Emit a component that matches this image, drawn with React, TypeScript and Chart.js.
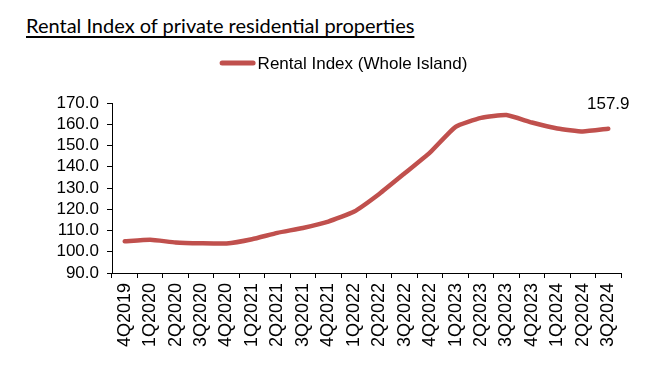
import React, { useEffect, useRef } from "react";
import { Chart, registerables } from "chart.js";

Chart.register(...registerables);

const titleText = "Rental Index of private residential properties";
const seriesLabel = "Rental Index (Whole Island)";
const categories = [
  "4Q2019", "1Q2020", "2Q2020", "3Q2020", "4Q2020",
  "1Q2021", "2Q2021", "3Q2021", "4Q2021",
  "1Q2022", "2Q2022", "3Q2022", "4Q2022",
  "1Q2023", "2Q2023", "3Q2023", "4Q2023",
  "1Q2024", "2Q2024", "3Q2024",
];
const rentalIndex = [
  104.9, 105.6, 104.4, 104.0, 103.9,
  105.9, 108.9, 111.2, 114.2,
  118.8, 127.2, 136.9, 146.8,
  158.8, 163.0, 164.3, 160.8,
  158.0, 156.6, 157.9,
];
const yMin = 90;
const yMax = 170;
const yStep = 10;

const FONT = '"Liberation Sans", Arial, sans-serif';
const LINE_COLOR = "#C0504D";

const legendPlugin = {
  id: "customLegend",
  afterDraw(chart: any) {
    const ds = chart.data.datasets[0];
    const ctx = chart.ctx;
    ctx.save();
    ctx.font = `17px ${FONT}`;
    const text = ds.label as string;
    const tw = ctx.measureText(text).width;
    const lineW = 36;
    const gap = 2;
    const total = lineW + gap + tw;
    const cx = 343.5;
    const cy = 63;
    const x0 = cx - total / 2;
    ctx.strokeStyle = ds.borderColor;
    ctx.lineWidth = 5;
    ctx.lineCap = "round";
    ctx.beginPath();
    ctx.moveTo(x0 + 2.5, cy);
    ctx.lineTo(x0 + lineW - 2.5, cy);
    ctx.stroke();
    ctx.fillStyle = "#000";
    ctx.textBaseline = "middle";
    ctx.textAlign = "left";
    ctx.fillText(text, x0 + lineW + gap, cy + 1);
    ctx.restore();
  },
};

const lastValuePlugin = {
  id: "lastValue",
  afterDatasetsDraw(chart: any) {
    const meta = chart.getDatasetMeta(0);
    const data = chart.data.datasets[0].data as number[];
    const idx = data.length - 1;
    const el = meta.data[idx];
    if (!el) return;
    const ctx = chart.ctx;
    ctx.save();
    ctx.font = `17px ${FONT}`;
    ctx.fillStyle = "#000";
    ctx.textAlign = "center";
    ctx.textBaseline = "alphabetic";
    ctx.fillText(data[idx].toFixed(1), el.x, el.y - 20);
    ctx.restore();
  },
};

export default function App() {
  const canvasRef = useRef<HTMLCanvasElement | null>(null);

  useEffect(() => {
    if (!canvasRef.current) return;
    const chart = new Chart(canvasRef.current, {
      type: "line",
      data: {
        labels: categories,
        datasets: [
          {
            label: seriesLabel,
            data: rentalIndex,
            borderColor: LINE_COLOR,
            backgroundColor: LINE_COLOR,
            borderWidth: 4.5,
            pointRadius: 0,
            pointHoverRadius: 0,
            tension: 0.15,
            borderCapStyle: "round",
            borderJoinStyle: "round",
            fill: false,
          },
        ],
      },
      options: {
        responsive: false,
        animation: false,
        layout: { padding: { top: 103, left: 50, right: 39, bottom: 0 } },
        plugins: {
          legend: { display: false },
          title: { display: false },
          tooltip: { enabled: false },
        },
        scales: {
          x: {
            type: "category",
            offset: true,
            grid: {
              offset: true,
              drawOnChartArea: false,
              drawTicks: true,
              tickLength: 5,
              tickColor: "#000",
              tickWidth: 1,
            },
            border: { display: true, color: "#000", width: 1 },
            ticks: {
              autoSkip: false,
              maxRotation: 90,
              minRotation: 90,
              padding: 5,
              color: "#000",
              font: { family: FONT, size: 18 },
            },
            afterFit(scale: any) {
              scale.height = 103;
            },
          },
          y: {
            min: yMin,
            max: yMax,
            grid: {
              drawOnChartArea: false,
              drawTicks: true,
              tickLength: 5,
              tickColor: "#000",
              tickWidth: 1,
            },
            border: { display: true, color: "#000", width: 1 },
            ticks: {
              stepSize: yStep,
              autoSkip: false,
              padding: 8,
              color: "#000",
              font: { family: FONT, size: 17 },
              callback: (v: any) => Number(v).toFixed(1),
            },
            afterFit(scale: any) {
              scale.width = 62;
            },
          },
        },
      },
      plugins: [legendPlugin, lastValuePlugin],
    });
    return () => chart.destroy();
  }, []);

  return (
    <div
      style={{
        position: "absolute",
        left: 0,
        top: 0,
        width: 660,
        height: 376,
        background: "#fff",
        overflow: "hidden",
      }}
    >
      <div
        style={{
          position: "absolute",
          left: 26,
          top: 13,
          fontFamily: "Lato, 'Open Sans', sans-serif",
          fontSize: 20,
          lineHeight: "24px",
          color: "#000",
          textDecoration: "underline",
          textDecorationThickness: "1.5px",
          textUnderlineOffset: "3px",
          whiteSpace: "nowrap",
        }}
      >
        {titleText}
      </div>
      <canvas
        ref={canvasRef}
        width={660}
        height={376}
        style={{ position: "absolute", left: 0, top: 0, width: 660, height: 376 }}
      />
    </div>
  );
}
